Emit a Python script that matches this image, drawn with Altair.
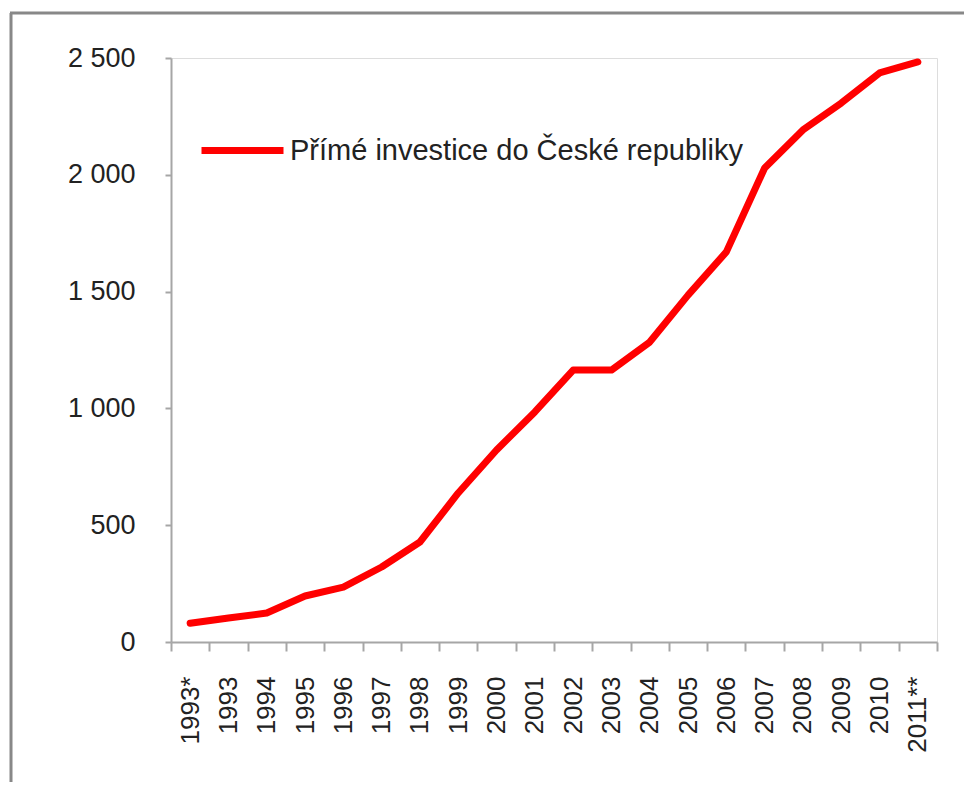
import altair as alt
import pandas as pd

categories = ["1993*", "1993", "1994", "1995", "1996", "1997", "1998", "1999", "2000",
              "2001", "2002", "2003", "2004", "2005", "2006", "2007", "2008", "2009",
              "2010", "2011**"]
values = [80, 103, 124, 197, 235, 321, 428, 638, 822, 985, 1164, 1164, 1284, 1485,
          1670, 2029, 2192, 2307, 2436, 2483]
series_name = "Přímé investice do České republiky"
y_ticks = [0, 500, 1000, 1500, 2000, 2500]

df = pd.DataFrame({"rok": categories, "hodnota": values, "serie": [series_name] * len(categories)})

FONT = "Liberation Sans"
W, H = 766, 584
PL, PT, PR, PB = 163, 50, 27, 140

line = alt.Chart(df).mark_line(strokeWidth=7, strokeCap="round", strokeJoin="round").encode(
    x=alt.X("rok:N", sort=categories, title=None,
            scale=alt.Scale(paddingInner=0, paddingOuter=0),
            axis=alt.Axis(labelAngle=270, labelAlign="right", labelBaseline="middle",
                          labelFontSize=26, labelFont=FONT, labelColor="#222222",
                          labelPadding=25, tickBand="extent", tickSize=9, tickWidth=2,
                          tickColor="#a6a6a6", domainColor="#a6a6a6", domainWidth=2,
                          grid=False)),
    y=alt.Y("hodnota:Q", title=None,
            scale=alt.Scale(domain=[0, 2500], nice=False),
            axis=alt.Axis(values=y_ticks, labelFontSize=27, labelFont=FONT,
                          labelColor="#222222", labelPadding=30, tickSize=6, tickWidth=2,
                          tickColor="#a6a6a6", domainColor="#a6a6a6", domainWidth=2,
                          grid=False,
                          labelExpr="replace(format(datum.value, ','), ',', ' ')")),
    color=alt.Color("serie:N", title=None,
                    scale=alt.Scale(domain=[series_name], range=["#ff0000"]),
                    legend=alt.Legend(orient="none", legendX=27, legendY=48, padding=0,
                                      symbolType="stroke", symbolSize=6724,
                                      symbolStrokeWidth=7, labelFontSize=29,
                                      labelFont=FONT, labelColor="#222222",
                                      labelOffset=3, labelLimit=0)),
)

frame_df = pd.DataFrame({"a": [0]})
left_border = alt.Chart(frame_df).mark_rule(color="#888888", strokeWidth=3).encode(
    x=alt.value(-160), y=alt.value(-45), y2=alt.value(H + PB))
top_border = alt.Chart(frame_df).mark_rule(color="#888888", strokeWidth=3).encode(
    x=alt.value(-161), x2=alt.value(W + PR), y=alt.value(-45))

chart = alt.layer(line, left_border, top_border).properties(
    width=W, height=H,
    autosize=alt.AutoSizeParams(type="none"),
    padding={"left": PL, "top": PT, "right": PR, "bottom": PB},
).configure_view(stroke=None).configure(background="white")

chart.save("out.html", embed_options={"renderer": "svg", "actions": False})
